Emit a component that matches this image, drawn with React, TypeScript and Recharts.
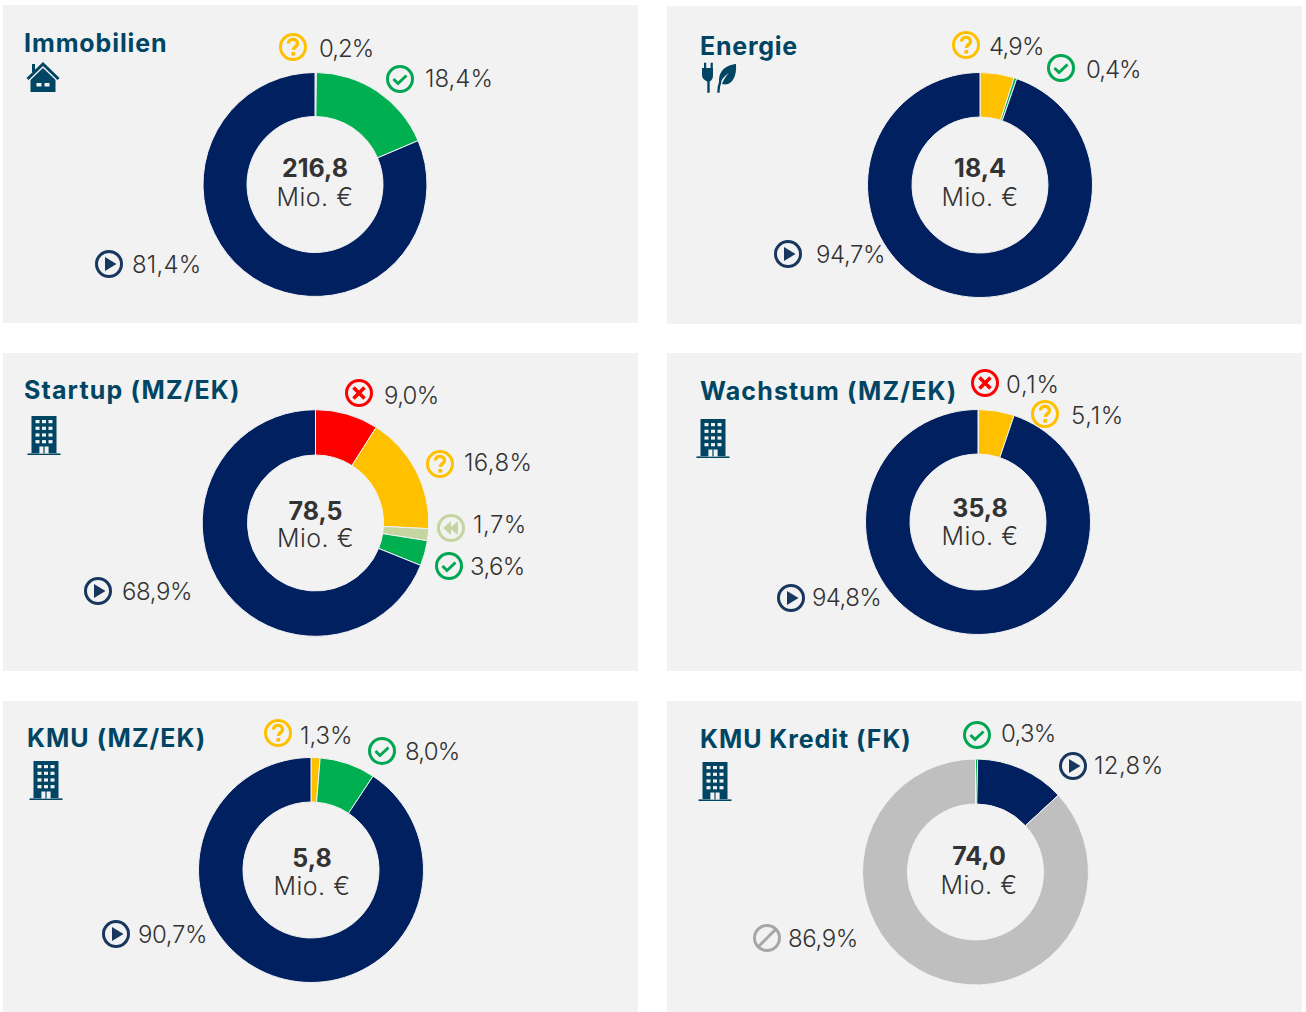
import React from 'react';
import { PieChart, Pie, Cell } from 'recharts';

const BLUE = '#002060', GREEN = '#00B050', YELLOW = '#FFC000', RED = '#FF0000', PALE = '#C5D5A0', GREY = '#BFBFBF';
const ICON_BLUE = '#17375E', ICON_GREEN = '#00A651', ICON_YELLOW = '#FFC000', ICON_RED = '#FF0000', ICON_PALE = '#C5D5A0', ICON_GREY = '#A6A6A6';
const TITLE = '#004563', TEXT = '#333333', BG = '#F2F2F2';
const FONT = 'Inter, "Noto Sans", sans-serif';

const titles = ['Immobilien', 'Energie', 'Startup (MZ/EK)', 'Wachstum (MZ/EK)', 'KMU (MZ/EK)', 'KMU Kredit (FK)'];
const totals = ['216,8', '18,4', '78,5', '35,8', '5,8', '74,0'];

const immobilienValues = [0.2, 18.4, 81.4];
const energieValues = [4.9, 0.4, 94.7];
const startupValues = [9.0, 16.8, 1.7, 3.6, 68.9];
const wachstumValues = [0.1, 5.1, 94.8];
const kmuValues = [1.3, 8.0, 90.7];
const kreditValues = [0.3, 12.8, 86.9];

const immobilienKinds = ['q', 'ok', 'play'];
const energieKinds = ['q', 'ok', 'play'];
const startupKinds = ['x', 'q', 'back', 'ok', 'play'];
const wachstumKinds = ['x', 'q', 'play'];
const kmuKinds = ['q', 'ok', 'play'];
const kreditKinds = ['ok', 'play', 'no'];

const sliceColor: Record<string, string> = { q: YELLOW, ok: GREEN, play: BLUE, x: RED, back: PALE, no: GREY };
const iconColor: Record<string, string> = { q: ICON_YELLOW, ok: ICON_GREEN, play: ICON_BLUE, x: ICON_RED, back: ICON_PALE, no: ICON_GREY };

const panelBox = [
  { x: 3, y: 5, w: 635, h: 318 }, { x: 667, y: 6, w: 635, h: 318 },
  { x: 3, y: 353, w: 635, h: 318 }, { x: 667, y: 353, w: 635, h: 318 },
  { x: 3, y: 701, w: 635, h: 311 }, { x: 667, y: 701, w: 635, h: 311 },
];
const centers = [[315, 184.5], [980, 185], [315.5, 523], [978, 522], [311, 870], [975.5, 872]];
const radii = [112, 112.5, 113.3, 112.5, 112.5, 113];
const totalPos = [[315, 168], [980, 168], [315.5, 510.5], [980, 508], [312, 857.5], [979, 856]];
const unitPos = [[315, 196.5], [980, 197], [315.5, 538], [980, 536], [312, 886], [979, 885]];
const titlePos = [[24, 42.5], [700, 46], [24, 390], [700, 391], [27, 737.5], [700, 739]];
const titleSpacing = [0.9, 0.75, 1.15, 1.15, 1.05, 0.95];
const glyphPos: [string, number, number][] = [['house', 43, 77], ['energy', 719, 78], ['building', 44, 435], ['building', 713, 438], ['building', 46, 780], ['building', 715, 781]];
// [icon x, icon y, text x, text y, text tracking] per slice
const labelPos = [
  [[293, 47, 319, 48, -1], [400, 79, 425, 78, 0], [109, 264, 132, 264, 0.2]],
  [[966, 45, 989, 46, -0.8], [1061, 68, 1086, 69, -1], [788, 254, 816, 254, -0.4]],
  [[359, 393, 384, 395, -0.7], [440, 464, 464, 462, 0.4], [451, 528, 473, 524, 0.5], [449, 566, 470, 566, -0.6], [98, 591, 122, 591, -0.4]],
  [[985, 383, 1006, 384, 0.7], [1045, 414, 1071, 415, 0.7], [791, 598, 812, 597, -0.6]],
  [[278, 733, 300, 735, 0], [382, 751, 405, 751, -0.8], [116, 934, 138, 934, -0.4]],
  [[977, 735, 1001, 733, -0.7], [1073, 766, 1094, 765, 0.4], [767, 938, 788, 938, -0.4]],
];

const allValues = [immobilienValues, energieValues, startupValues, wachstumValues, kmuValues, kreditValues];
const allKinds = [immobilienKinds, energieKinds, startupKinds, wachstumKinds, kmuKinds, kreditKinds];

const fmt = (v: number) => v.toFixed(1).replace('.', ',') + '%';

function StatusIcon({ kind, x, y }: { kind: string; x: number; y: number }) {
  const c = iconColor[kind];
  return (
    <svg width={30} height={30} viewBox="-15 -15 30 30" style={{ position: 'absolute', left: x - 15, top: y - 15 }}>
      <circle r={12.5} fill="none" stroke={c} strokeWidth={3} />
      {kind === 'q' && (
        <>
          <path d="M-4.5 -3.5 C-4.5 -9 4.5 -9 4.5 -3.5 C4.5 0 0.3 -0.5 0.3 3" fill="none" stroke={c} strokeWidth={3.4} />
          <rect x={-1.6} y={5} width={3.8} height={3.6} fill={c} />
        </>
      )}
      {kind === 'ok' && <path d="M-6.5 0 L-2 4.5 L6.5 -3.5" fill="none" stroke={c} strokeWidth={3} />}
      {kind === 'play' && <path d="M-4 -7 L7.5 0 L-4 7 Z" fill={c} />}
      {kind === 'x' && <path d="M-5.5 -5.5 L5.5 5.5 M5.5 -5.5 L-5.5 5.5" fill="none" stroke={c} strokeWidth={3.6} />}
      {kind === 'back' && <path d="M-8 0 L0 -7 L0 -1 L7 -7 L7 7 L0 1 L0 7 Z" fill={c} />}
      {kind === 'no' && <path d="M-8.5 8.5 L8.5 -8.5" fill="none" stroke={c} strokeWidth={3} />}
    </svg>
  );
}

function Glyph({ kind, x, y }: { kind: string; x: number; y: number }) {
  const s: React.CSSProperties = { position: 'absolute', left: x - 20, top: y - 24 };
  if (kind === 'house') {
    return (
      <svg width={40} height={48} viewBox="-20 -24 40 48" style={s}>
        <rect x={-11} y={-13} width={3} height={8} fill={TITLE} />
        <path d="M-15.5 2 L0 -13 L15.5 2" fill="none" stroke={TITLE} strokeWidth={3} />
        <path d="M-12.5 3 L0 -9 L12.5 3 L12.5 15 L-12.5 15 Z M-6.5 6 L-6.5 9.5 L-1.5 9.5 L-1.5 6 Z M1.5 6 L1.5 9.5 L6.5 9.5 L6.5 6 Z" fill={TITLE} fillRule="evenodd" />
      </svg>
    );
  }
  if (kind === 'energy') {
    return (
      <svg width={40} height={48} viewBox="-20 -24 40 48" style={s}>
        <path d="M-17 -10 L-6 -10 L-6 -3 C-6 1 -8 3 -9.3 3.5 L-9.3 14.7 L-11.7 14.7 L-11.7 3.5 C-13 3 -17 1 -17 -3 Z" fill={TITLE} />
        <rect x={-15} y={-15.3} width={2.2} height={6} fill={TITLE} />
        <rect x={-8.4} y={-15.3} width={2.2} height={6} fill={TITLE} />
        <path d="M0.6 7 C-2 -6 6 -13 17 -14 C18 -2 13 9 3 6 C5 1 7 -2 10 -5 C5 -2 2 2 0.6 7 Z" fill={TITLE} />
        <path d="M-0.6 14.7 C-0.8 10 0 7 1.5 3" fill="none" stroke={TITLE} strokeWidth={2.3} />
      </svg>
    );
  }
  const windows: React.ReactNode[] = [];
  for (let r = 0; r < 4; r++) for (let c = 0; c < 3; c++) windows.push(<rect key={`${r}-${c}`} x={-8.5 + c * 6.5} y={-15 + r * 6.7} width={4} height={3.2} fill={BG} />);
  return (
    <svg width={40} height={48} viewBox="-20 -24 40 48" style={s}>
      <rect x={-12.5} y={-19} width={25} height={37} fill={TITLE} />
      <rect x={-16.5} y={18.4} width={33} height={1.6} fill={TITLE} />
      {windows}
      <rect x={-4.6} y={11.5} width={4} height={7} fill={BG} />
      <rect x={0.6} y={11.5} width={4} height={7} fill={BG} />
    </svg>
  );
}

const abs = (x: number, y: number, t: string): React.CSSProperties => ({ position: 'absolute', left: x, top: y, transform: t, whiteSpace: 'nowrap', fontFamily: FONT });

export default function App() {
  return (
    <div style={{ position: 'absolute', left: 0, top: 0, width: 1306, height: 1012, background: '#fff', overflow: 'hidden' }}>
      {panelBox.map((b, i) => {
        const data = allValues[i].map((value, k) => ({ name: allKinds[i][k], value }));
        const [cx, cy] = centers[i];
        return (
          <div key={i}>
            <div style={{ position: 'absolute', left: b.x, top: b.y, width: b.w, height: b.h, background: BG }}>
              <PieChart width={b.w} height={b.h} margin={{ top: 0, right: 0, bottom: 0, left: 0 }}>
                <Pie data={data} dataKey="value" nameKey="name" cx={cx - b.x} cy={cy - b.y} innerRadius={68} outerRadius={radii[i]}
                  startAngle={90} endAngle={-270} stroke={BG} strokeWidth={1} isAnimationActive={false} labelLine={false}>
                  {data.map((d, k) => <Cell key={k} fill={sliceColor[d.name]} />)}
                </Pie>
              </PieChart>
            </div>
            <div style={{ ...abs(titlePos[i][0], titlePos[i][1], 'translateY(-50%)'), color: TITLE, fontSize: 25, fontWeight: 700, letterSpacing: titleSpacing[i] }}>{titles[i]}</div>
            <Glyph kind={glyphPos[i][0]} x={glyphPos[i][1]} y={glyphPos[i][2]} />
            <div style={{ ...abs(totalPos[i][0], totalPos[i][1], 'translate(-50%,-50%)'), color: TEXT, fontSize: 25, fontWeight: 700 }}>{totals[i]}</div>
            <div style={{ ...abs(unitPos[i][0], unitPos[i][1], 'translate(-50%,-50%)'), color: TEXT, fontSize: 25, fontWeight: 300, letterSpacing: 0.5 }}>Mio. €</div>
            {allValues[i].map((v, k) => {
              const [ix, iy, tx, ty, track] = labelPos[i][k];
              return (
                <React.Fragment key={k}>
                  <StatusIcon kind={allKinds[i][k]} x={ix} y={iy} />
                  <div style={{ ...abs(tx, ty, 'translateY(-50%)'), color: TEXT, fontSize: 24, fontWeight: 300, letterSpacing: track }}>{fmt(v)}</div>
                </React.Fragment>
              );
            })}
          </div>
        );
      })}
    </div>
  );
}
